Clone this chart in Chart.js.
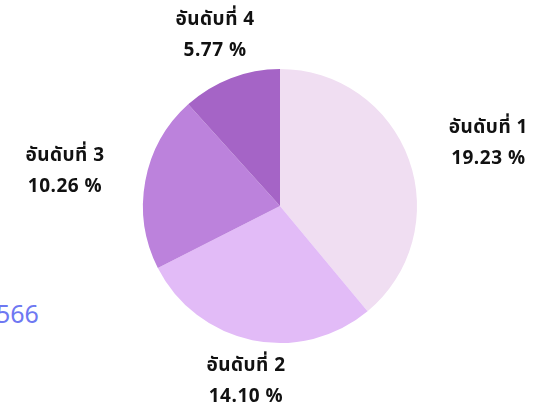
<!DOCTYPE html>
<html>
<head>
<meta charset="utf-8">
<script src="https://cdn.jsdelivr.net/npm/chart.js@4/dist/chart.umd.min.js"></script>
<style>
  html, body { margin: 0; padding: 0; background: #fff; overflow: hidden; }
  #wrap { position: relative; width: 535px; height: 407px; }
  #side { position: absolute; left: -4px; top: 296px; font: 25px "Noto Sans", sans-serif; color: #6e78f2; }
  canvas { position: absolute; left: 0; top: 0; }
</style>
</head>
<body>
<div id="wrap">
  <div id="side">566</div>
  <canvas id="chartPie" width="535" height="407"></canvas>
</div>
<script>
const rankLabels = ['อันดับที่ 1', 'อันดับที่ 2', 'อันดับที่ 3', 'อันดับที่ 4'];
const rankValues = [19.23, 14.10, 10.26, 5.77];
const rankColors = ['#f0def2', '#e2bbf7', '#bc82dc', '#a564c6'];

// labels outside the slices, anchored at the arc end and pushed clear of it
const outLabels = {
  id: 'outLabels',
  afterDatasetsDraw(chart) {
    const ctx = chart.ctx;
    const meta = chart.getDatasetMeta(0);
    ctx.save();
    ctx.font = 'bold 19px "Noto Sans Thai", "Noto Sans", sans-serif';
    ctx.letterSpacing = '0.5px';
    ctx.fillStyle = '#111';
    ctx.textAlign = 'center';
    ctx.textBaseline = 'middle';
    const lineH = 31, offset = 18, padX = 23, h = 50;
    meta.data.forEach((arc, i) => {
      const lines = [chart.data.labels[i], chart.data.datasets[0].data[i].toFixed(2) + ' %'];
      const mid = (arc.startAngle + arc.endAngle) / 2;
      const vx = Math.cos(mid), vy = Math.sin(mid);
      const w = Math.max(...lines.map(t => ctx.measureText(t).width)) + padX * 2;
      const m = Math.max(Math.abs(vx), Math.abs(vy));
      const sx = vx * Math.abs(vx) / (m * m);
      const sy = vy / m;
      const x = arc.x + vx * (arc.outerRadius + offset) + sx * w / 2;
      const y = arc.y + vy * (arc.outerRadius + offset) + sy * h / 2;
      ctx.fillText(lines[0], x, y - lineH / 2);
      ctx.fillText(lines[1], x, y + lineH / 2);
    });
    ctx.restore();
  }
};

new Chart(document.getElementById('chartPie'), {
  type: 'pie',
  data: {
    labels: rankLabels,
    datasets: [{
      data: rankValues,
      backgroundColor: rankColors,
      borderWidth: 0
    }]
  },
  options: {
    responsive: false,
    animation: false,
    layout: { padding: { left: 143, right: 118, top: 69, bottom: 64 } },
    plugins: {
      legend: { display: false },
      tooltip: { enabled: false }
    }
  },
  plugins: [outLabels]
});
</script>
</body>
</html>
